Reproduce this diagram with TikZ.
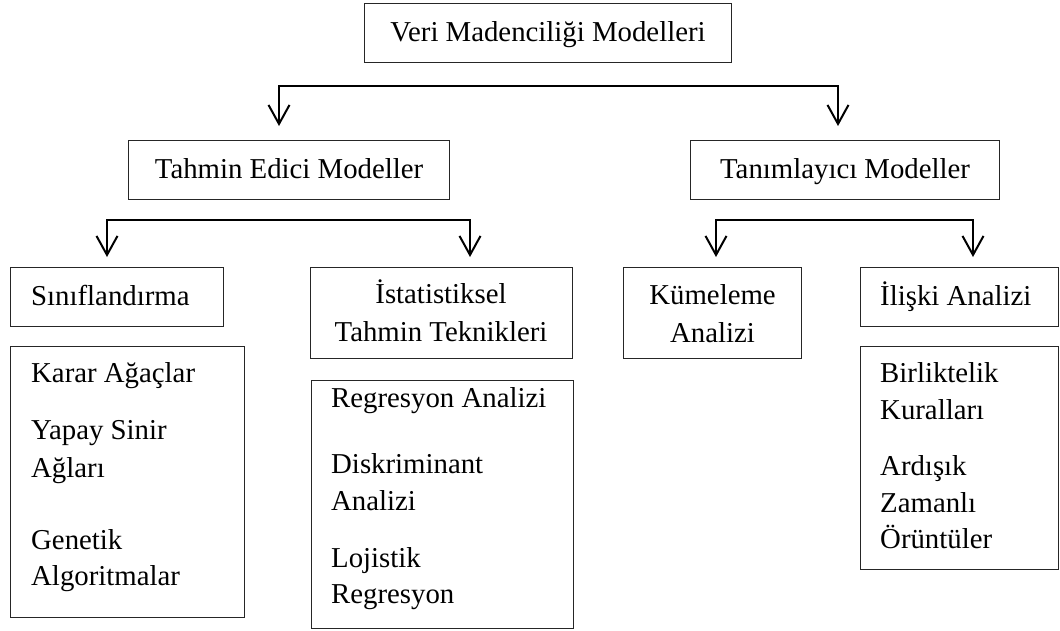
\documentclass[tikz,border=0pt]{standalone}
\usepackage{fontspec}
\setmainfont{Liberation Serif}
\usetikzlibrary{arrows.meta}
\begin{document}
\begin{tikzpicture}[x=1pt,y=-1pt,
  box/.style={draw=black!85, line width=1.1pt, inner sep=0pt, anchor=north west},
  lbl/.style={inner sep=0pt, font=\fontsize{28.8}{34}\selectfont},
  lft/.style={lbl, anchor=base west},
  ctr/.style={lbl, anchor=base},
  bracket/.style={line width=2pt,
    {Straight Barb[length=19pt,width=21pt]}-{Straight Barb[length=19pt,width=21pt]}}
]
\useasboundingbox (0,0) rectangle (1060,630);

% boxes
\node[box, minimum width=367pt, minimum height=59pt] (veri)   at (364,3)   {};
\node[box, minimum width=321pt, minimum height=59pt] (tahmin) at (128,140) {};
\node[box, minimum width=309pt, minimum height=59pt] (tanim)  at (690,140) {};
\node[box, minimum width=213pt, minimum height=59pt] (sinif)  at (10,267)  {};
\node[box, minimum width=262pt, minimum height=91pt] (istat)  at (310,267) {};
\node[box, minimum width=178pt, minimum height=91pt] (kume)   at (623,267) {};
\node[box, minimum width=198pt, minimum height=59pt] (iliski) at (860,267) {};
\node[box, minimum width=234pt, minimum height=271pt] (karar) at (10,346)  {};
\node[box, minimum width=262pt, minimum height=248pt] (regr)  at (311,380) {};
\node[box, minimum width=198pt, minimum height=223pt] (birlik) at (860,346) {};

% box titles
\node[ctr] (veriT)   at (veri.center |- 0,41)    {Veri Madenciliği Modelleri};
\node[ctr] (tahminT) at (tahmin.center |- 0,178) {Tahmin Edici Modeller};
\node[ctr] (tanimT)  at (tanim.center |- 0,178)  {Tanımlayıcı Modeller};
\node[lft] (sinifT)  at (31,305)  {Sınıflandırma};
\node[ctr] (istatA)  at (441,303) {İstatistiksel};
\node[ctr] (istatB)  at (441,341) {Tahmin Teknikleri};
\node[ctr] (kumeA)   at (kume.center |- 0,304) {Kümeleme};
\node[ctr] (kumeB)   at (kume.center |- 0,342) {Analizi};
\node[lft] (iliskiT) at (880,305) {İlişki Analizi};

% method lists
\node[lft] (k1) at (31,382) {Karar Ağaçlar};
\node[lft] (k2) at (31,439) {Yapay Sinir};
\node[lft] (k3) at (31,477) {Ağları};
\node[lft] (k4) at (31,549) {Genetik};
\node[lft] (k5) at (31,585) {Algoritmalar};

\node[lft] (r1) at (331,407) {Regresyon Analizi};
\node[lft] (r2) at (331,473) {Diskriminant};
\node[lft] (r3) at (331,510) {Analizi};
\node[lft] (r4) at (331,567) {Lojistik};
\node[lft] (r5) at (331,603) {Regresyon};

\node[lft] (b1) at (880,382) {Birliktelik};
\node[lft] (b2) at (880,419) {Kuralları};
\node[lft] (b3) at (880,475) {Ardışık};
\node[lft] (b4) at (880,512) {Zamanlı};
\node[lft] (b5) at (880,548) {Örüntüler};

% branching connectors
\coordinate (m1) at (279,86);  \coordinate (m2) at (838,86);
\coordinate (m1t) at (279,126); \coordinate (m2t) at (838,126);
\draw[bracket] (m1t) -- (m1) -- (m2) -- (m2t);

\coordinate (p1) at (107,220); \coordinate (p2) at (470,220);
\coordinate (p1t) at (107,257); \coordinate (p2t) at (470,257);
\draw[bracket] (p1t) -- (p1) -- (p2) -- (p2t);

\coordinate (d1) at (716,220); \coordinate (d2) at (973,220);
\coordinate (d1t) at (716,257); \coordinate (d2t) at (973,257);
\draw[bracket] (d1t) -- (d1) -- (d2) -- (d2t);
\end{tikzpicture}
\end{document}
